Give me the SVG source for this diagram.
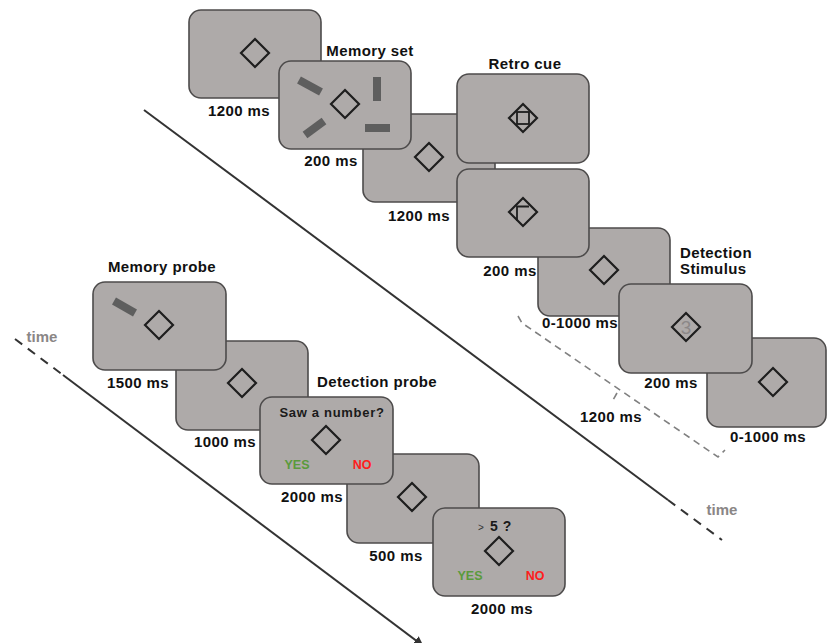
<svg xmlns="http://www.w3.org/2000/svg" width="827" height="643" viewBox="0 0 827 643">
<style>
.p{fill:#aeaaa9;stroke:#4d4b4b;stroke-width:1.6}
.d{fill:none;stroke:#1e1e1e;stroke-width:2.2}
.b{stroke:#5e5e5e;stroke-width:8;stroke-linecap:butt}
.l{font-family:"Liberation Sans",Arial,sans-serif;font-weight:bold;font-size:15px;fill:#111;letter-spacing:0.4px}
.c{text-anchor:middle}
.t{font-family:"Liberation Sans",Arial,sans-serif;font-weight:bold;font-size:15px;fill:#8a8686}
.y{font-family:"Liberation Sans",Arial,sans-serif;font-weight:bold;font-size:12.5px;fill:#5a9a3c;text-anchor:middle}
.n{font-family:"Liberation Sans",Arial,sans-serif;font-weight:bold;font-size:12.5px;fill:#ff1c1c;text-anchor:middle}
.ax{stroke:#333;stroke-width:2;fill:none}
.axd{stroke:#333;stroke-width:2;fill:none;stroke-dasharray:9 7}
.br{stroke:#808080;stroke-width:1.6;fill:none;stroke-dasharray:7 5}
</style>
<defs>
<path id="dm" d="M0,-14 L14,0 L0,14 L-14,0 Z"/>
<marker id="ah" markerWidth="10" markerHeight="10" refX="8" refY="5" orient="auto" markerUnits="userSpaceOnUse">
<path d="M0,0 L10,5 L0,10 Z" fill="#333"/>
</marker>
</defs>

<g id="connectors">
<line class="ax" x1="144" y1="110" x2="668" y2="500"/>
<line class="axd" x1="668" y1="500" x2="722" y2="540"/>
<line class="axd" x1="15" y1="339" x2="63" y2="375"/>
<line class="ax" x1="63" y1="375" x2="422" y2="645" marker-end="url(#ah)"/>
<path class="br" d="M518,316 L522,323 L718,457 L725,450"/>
<path class="br" d="M617,393 L613,400"/>
</g>

<g id="panel1">
<rect class="p" x="189" y="10" width="132" height="88" rx="12"/>
<use href="#dm" x="255" y="53" class="d"/>
<text class="l c" x="239" y="116">1200 ms</text>
</g>

<g id="panel3">
<rect class="p" x="363" y="114" width="132" height="88" rx="12"/>
<use href="#dm" x="429" y="157" class="d"/>
<text class="l c" x="419" y="221">1200 ms</text>
</g>

<g id="panel2">
<rect class="p" x="279" y="61" width="132" height="88" rx="12"/>
<line class="b" x1="299" y1="80" x2="321" y2="92"/>
<line class="b" x1="377" y1="77" x2="377" y2="101"/>
<line class="b" x1="365" y1="128" x2="390" y2="128"/>
<line class="b" x1="305" y1="135" x2="324" y2="121"/>
<use href="#dm" x="345" y="104" class="d"/>
<text class="l c" x="370" y="56">Memory set</text>
<text class="l c" x="331" y="166">200 ms</text>
</g>

<g id="panel5">
<rect class="p" x="538" y="228" width="132" height="88" rx="12"/>
<use href="#dm" x="604" y="270" class="d"/>
<text class="l c" x="580" y="328">0-1000 ms</text>
</g>

<g id="retro1">
<rect class="p" x="457" y="74" width="132" height="89" rx="12"/>
<use href="#dm" x="523" y="118" class="d"/>
<rect x="517" y="112" width="12" height="12" fill="none" stroke="#1e1e1e" stroke-width="1.8"/>
<text class="l c" x="525" y="69">Retro cue</text>
</g>

<g id="retro2">
<rect class="p" x="457" y="169" width="132" height="88" rx="12"/>
<use href="#dm" x="523" y="212" class="d"/>
<path d="M517,221 V206.5 H529" fill="none" stroke="#1e1e1e" stroke-width="1.8"/>
<text class="l c" x="510" y="276">200 ms</text>
</g>

<g id="panel7">
<rect class="p" x="707" y="338" width="119" height="89" rx="12"/>
<use href="#dm" x="773" y="382" class="d"/>
<text class="l c" x="768" y="442">0-1000 ms</text>
</g>

<g id="panel6">
<rect class="p" x="619" y="284" width="133" height="89" rx="12"/>
<text x="686" y="334" text-anchor="middle" font-family="'Liberation Sans',Arial,sans-serif" font-size="19" fill="#8c8888">3</text>
<use href="#dm" x="686" y="327" class="d"/>
<text class="l" x="680" y="258">Detection</text>
<text class="l" x="680" y="274">Stimulus</text>
<text class="l c" x="671" y="388">200 ms</text>
</g>

<g id="bracket-label">
<text class="l c" x="611" y="422">1200 ms</text>
</g>

<g id="time-labels">
<text class="t c" x="722" y="515">time</text>
<text class="t c" x="42" y="342">time</text>
</g>

<g id="panel1000">
<rect class="p" x="176" y="341" width="132" height="89" rx="12"/>
<use href="#dm" x="242" y="383" class="d"/>
<text class="l c" x="225" y="447">1000 ms</text>
</g>

<g id="memprobe">
<rect class="p" x="93" y="282" width="133" height="88" rx="12"/>
<line class="b" x1="114" y1="301" x2="135" y2="313"/>
<use href="#dm" x="159" y="325" class="d"/>
<text class="l c" x="162" y="272">Memory probe</text>
<text class="l c" x="138" y="388">1500 ms</text>
</g>

<g id="panel500">
<rect class="p" x="347" y="454" width="132" height="89" rx="12"/>
<use href="#dm" x="412" y="497" class="d"/>
<text class="l c" x="396" y="561">500 ms</text>
</g>

<g id="detprobe">
<rect class="p" x="260" y="397" width="133" height="87" rx="12"/>
<text x="332" y="417" text-anchor="middle" font-family="'Liberation Sans',Arial,sans-serif" font-weight="bold" font-size="13" letter-spacing="0.7" fill="#1a1a1a">Saw a number?</text>
<use href="#dm" x="326" y="440" class="d"/>
<text class="y" x="297" y="469">YES</text>
<text class="n" x="362" y="469">NO</text>
<text class="l c" x="377" y="387">Detection probe</text>
<text class="l c" x="312" y="502">2000 ms</text>
</g>

<g id="final">
<rect class="p" x="433" y="508" width="132" height="88" rx="12"/>
<text x="481" y="531" text-anchor="middle" font-family="'Liberation Sans',Arial,sans-serif" font-size="10" fill="#333">&gt;</text>
<text x="494" y="531" text-anchor="middle" font-family="'Liberation Sans',Arial,sans-serif" font-weight="bold" font-size="14" fill="#1a1a1a">5</text>
<text x="507" y="531" text-anchor="middle" font-family="'Liberation Sans',Arial,sans-serif" font-weight="bold" font-size="14" fill="#1a1a1a">?</text>
<use href="#dm" x="499" y="551" class="d"/>
<text class="y" x="470" y="580">YES</text>
<text class="n" x="535" y="580">NO</text>
<text class="l c" x="502" y="614">2000 ms</text>
</g>
</svg>
